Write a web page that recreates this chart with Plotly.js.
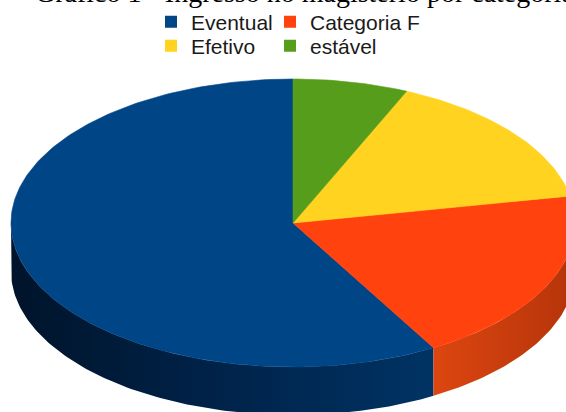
<!DOCTYPE html>
<html><head><meta charset="utf-8">
<script src="https://cdn.plot.ly/plotly-3.0.1.min.js"></script>
<style>html,body{margin:0;padding:0;background:#fff;overflow:hidden}#chart{width:566px;height:412px}</style>
</head><body><div id="chart"></div>
<script>
// ---- data ----
const categories = ['Eventual', 'Categoria F', 'Efetivo', 'estável'];
const values = [58.3, 19.7, 15.4, 6.6];
const topColors = ['#004586', '#ff420e', '#ffd320', '#579d1c'];
const sideScales = [
  [[0, '#00142a'], [0.5, '#00234a'], [1, '#003364']],
  [[0, '#dc4610'], [1, '#b5340a']],
  [[0, '#d8b010'], [1, '#b89408']],
  [[0, '#41790f'], [1, '#356510']]
];
const titleText = 'Gráfico 1 - Ingresso no magistério por categoria';
const legendRows = [[0, 1], [2, 3]];

// ---- geometry / style ----
const W = 566, H = 412;
const CX = 293, CY = 223, RX = 282, RY = 144, DEPTH = 48;
const COL_WIDTHS = [74, 130];

function pt(thetaDeg, dy) {
  const t = thetaDeg * Math.PI / 180;
  return [CX + RX * Math.sin(t), CY - RY * Math.cos(t) + dy];
}
function arc(t0, t1, dy) {
  const n = Math.max(2, Math.ceil(Math.abs(t1 - t0) / 1));
  const xs = [], ys = [];
  for (let i = 0; i <= n; i++) {
    const p = pt(t0 + (t1 - t0) * i / n, dy);
    xs.push(p[0]); ys.push(p[1]);
  }
  return [xs, ys];
}

const total = values.reduce((s, v) => s + v, 0);
// slices drawn counter-clockwise from 12 o'clock, in data order
const ranges = [];
let end = 360;
values.forEach(v => {
  const start = end - v / total * 360;
  ranges.push([start, end]);
  end = start;
});

const traces = [];
// side walls (front half: 90..270 deg clockwise from top)
ranges.forEach((r, i) => {
  const s0 = Math.max(r[0], 90), s1 = Math.min(r[1], 270);
  if (s0 >= s1) return;
  const top = arc(s0, s1, 0), bot = arc(s1, s0, DEPTH);
  traces.push({
    type: 'scatter', mode: 'lines', x: top[0].concat(bot[0]), y: top[1].concat(bot[1]),
    fill: 'toself', fillcolor: topColors[i],
    fillgradient: {type: 'horizontal', colorscale: sideScales[i]},
    line: {width: 0}, hoverinfo: 'skip', showlegend: false
  });
});
// top faces
ranges.forEach((r, i) => {
  const a = arc(r[0], r[1], 0);
  traces.push({
    type: 'scatter', mode: 'lines', x: [CX].concat(a[0], [CX]), y: [CY].concat(a[1], [CY]),
    fill: 'toself', fillcolor: topColors[i],
    line: {width: 0.6, color: topColors[i]}, hoverinfo: 'skip', showlegend: false
  });
});
// legend entries
legendRows.forEach((row, ri) => {
  row.forEach((i, ci) => {
    traces.push({
      type: 'scatter', mode: 'markers', x: [null], y: [null], name: categories[i],
      marker: {symbol: 'square', size: 12, color: topColors[i]},
      legend: ri === 0 ? 'legend' : 'legend2', legendwidth: COL_WIDTHS[ci],
      showlegend: true, hoverinfo: 'skip'
    });
  });
});

const legendFont = {family: 'Liberation Sans, Arial, sans-serif', size: 21, color: '#1a1a1a'};
const legendBase = {
  orientation: 'h', xanchor: 'left', yanchor: 'middle', x: 151 / W,
  entrywidthmode: 'pixels', font: legendFont,
  bgcolor: 'rgba(0,0,0,0)', borderwidth: 0, tracegroupgap: 0, itemclick: false
};

const layout = {
  width: W, height: H,
  margin: {l: 0, r: 0, t: 0, b: 0, pad: 0},
  paper_bgcolor: '#ffffff', plot_bgcolor: '#ffffff',
  xaxis: {range: [0, W], visible: false, fixedrange: true},
  yaxis: {range: [H, 0], visible: false, fixedrange: true},
  showlegend: true,
  legend: Object.assign({}, legendBase, {y: 1 - 22 / H}),
  legend2: Object.assign({}, legendBase, {y: 1 - 46 / H}),
  annotations: [{
    text: titleText, xref: 'paper', yref: 'paper', x: 304 / W, y: 1 + 8 / H,
    xanchor: 'center', yanchor: 'middle', showarrow: false,
    font: {family: 'Liberation Serif, Times New Roman, serif', size: 28, color: '#000000'}
  }]
};

Plotly.newPlot('chart', traces, layout, {staticPlot: true, displayModeBar: false});
</script>
</body></html>
